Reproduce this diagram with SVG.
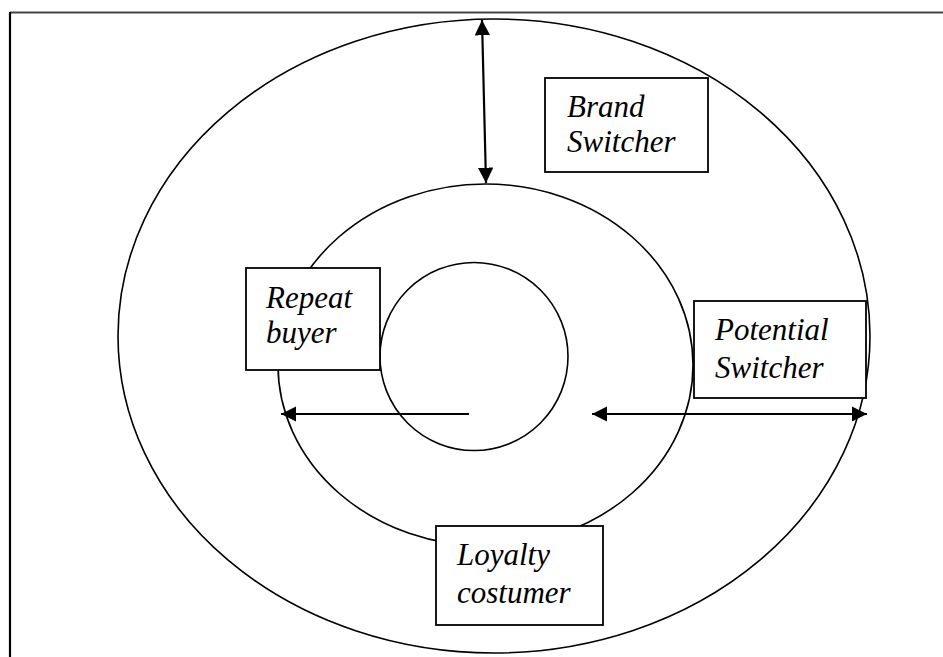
<svg xmlns="http://www.w3.org/2000/svg" width="943" height="657" viewBox="0 0 943 657">
<style>
.ring{fill:none;stroke:#000;stroke-width:1.6}
.box{fill:#fff;stroke:#000;stroke-width:1.8}
.lbl{font-family:"Liberation Serif","Times New Roman",serif;font-style:italic;font-size:31px;fill:#000}
.conn{stroke:#000;stroke-width:2.2;fill:none}
</style>
<defs>
<marker id="ah" viewBox="0 0 10 10" refX="10" refY="5" markerWidth="7" markerHeight="7" markerUnits="strokeWidth" orient="auto-start-reverse">
<path d="M0,0 L10,5 L0,10 Z" fill="#000"/>
</marker>
</defs>
<rect width="943" height="657" fill="#fff"/>
<g id="frame">
<line x1="10" y1="12.5" x2="943" y2="12.5" stroke="#444" stroke-width="2"/>
<line x1="10" y1="12" x2="10" y2="657" stroke="#000" stroke-width="2.2"/>
</g>
<g id="outer-ring"><ellipse class="ring" cx="494" cy="336" rx="376" ry="317"/></g>
<g id="middle-ring"><ellipse class="ring" cx="485.5" cy="365" rx="207.5" ry="181"/></g>
<g id="inner-ring"><circle class="ring" cx="474" cy="356.5" r="94"/></g>
<g id="connectors">
<line class="conn" x1="482" y1="20" x2="486" y2="183" marker-start="url(#ah)" marker-end="url(#ah)"/>
<line class="conn" x1="469" y1="414" x2="281" y2="414" marker-end="url(#ah)"/>
<line class="conn" x1="592" y1="414" x2="867" y2="414" marker-start="url(#ah)" marker-end="url(#ah)"/>
</g>
<g id="brand-switcher">
<rect class="box" x="545" y="78" width="163" height="94"/>
<text class="lbl" x="567" y="117">Brand</text>
<text class="lbl" x="567" y="152">Switcher</text>
</g>
<g id="repeat-buyer">
<rect class="box" x="246" y="268" width="134" height="102"/>
<text class="lbl" x="266" y="308">Repeat</text>
<text class="lbl" x="266" y="343">buyer</text>
</g>
<g id="potential-switcher">
<rect class="box" x="694" y="301" width="172" height="97"/>
<text class="lbl" x="715" y="340">Potential</text>
<text class="lbl" x="715" y="378">Switcher</text>
</g>
<g id="loyalty-costumer">
<rect class="box" x="436" y="526" width="167" height="99"/>
<text class="lbl" x="457" y="565">Loyalty</text>
<text class="lbl" x="457" y="603">costumer</text>
</g>
</svg>
